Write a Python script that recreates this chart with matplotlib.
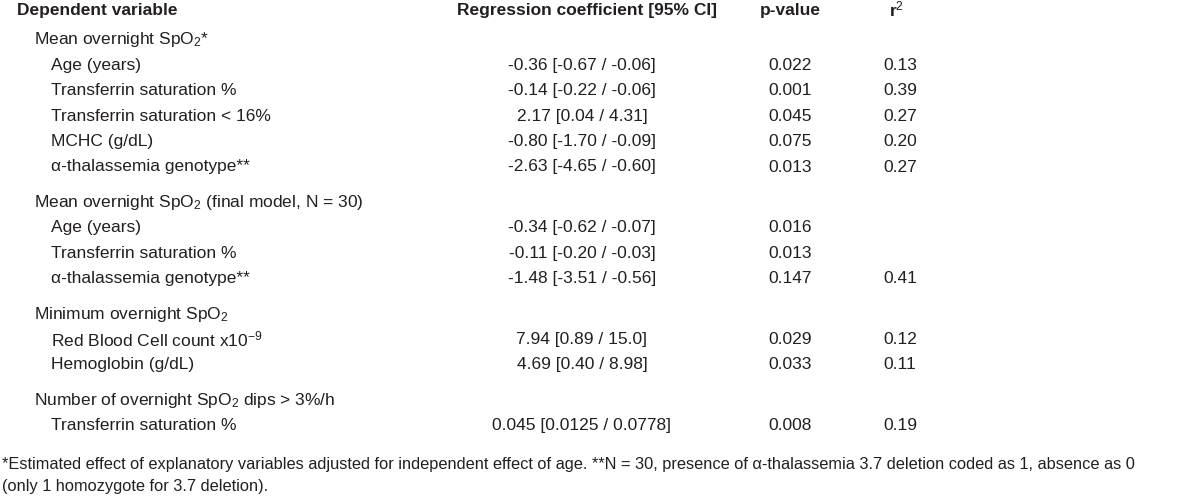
import matplotlib
matplotlib.use('Agg')
from matplotlib import pyplot as plt

FONT = 'Liberation Sans'
matplotlib.rcParams['font.family'] = [FONT, 'DejaVu Sans']
matplotlib.rcParams['mathtext.fontset'] = 'custom'
matplotlib.rcParams['mathtext.rm'] = FONT
matplotlib.rcParams['mathtext.it'] = FONT
matplotlib.rcParams['mathtext.bf'] = FONT + ':bold'

W, H = 1200, 504
INK = '#231f20'

headers = ['Dependent variable', 'Regression coefficient [95% CI]', 'p-value', 'r$^2$']

groups = [
	'Mean overnight SpO$_2$*',
	'Mean overnight SpO$_2$ (final model, N = 30)',
	'Minimum overnight SpO$_2$',
	'Number of overnight SpO$_2$ dips > 3%/h',
]
variables = [
	['Age (years)', 'Transferrin saturation %', 'Transferrin saturation < 16%',
	 'MCHC (g/dL)', 'α-thalassemia genotype**'],
	['Age (years)', 'Transferrin saturation %', 'α-thalassemia genotype**'],
	['Red Blood Cell count x10$^{-9}$', 'Hemoglobin (g/dL)'],
	['Transferrin saturation %'],
]
coefs = [
	['-0.36 [-0.67 / -0.06]', '-0.14 [-0.22 / -0.06]', '2.17 [0.04 / 4.31]',
	 '-0.80 [-1.70 / -0.09]', '-2.63 [-4.65 / -0.60]'],
	['-0.34 [-0.62 / -0.07]', '-0.11 [-0.20 / -0.03]', '-1.48 [-3.51 / -0.56]'],
	['7.94 [0.89 / 15.0]', '4.69 [0.40 / 8.98]'],
	['0.045 [0.0125 / 0.0778]'],
]
pvalues = [
	['0.022', '0.001', '0.045', '0.075', '0.013'],
	['0.016', '0.013', '0.147'],
	['0.029', '0.033'],
	['0.008'],
]
r2 = [
	['0.13', '0.39', '0.27', '0.20', '0.27'],
	['', '', '0.41'],
	['0.12', '0.11'],
	['0.19'],
]
footnotes = [
	'*Estimated effect of explanatory variables adjusted for independent effect of age. '
	'**N = 30, presence of α-thalassemia 3.7 deletion coded as 1, absence as 0',
	'(only 1 homozygote for 3.7 deletion).',
]

# layout in pixels (from top-left)
x_head, x_group, x_var = 17, 34, 51
x_coef, x_p, x_r2 = 582, 790, 900
y_head = 10
row_h = 25.4
group_gap = 10
fs = 12.5
fs_note = 11.8


def put(x, y, s, **kw):
	kw.setdefault('fontsize', fs)
	kw.setdefault('color', INK)
	kw.setdefault('va', 'center')
	fig.text(x / W, 1 - y / H, s, **kw)


fig = plt.figure(figsize=(W / 100, H / 100), dpi=100)
fig.patch.set_facecolor('white')

put(x_head, y_head, headers[0], fontweight='bold', ha='left')
put(587, y_head, headers[1], fontweight='bold', ha='center')
put(x_p, y_head, headers[2], fontweight='bold', ha='center')
put(x_r2 - 3, y_head - 1, headers[3], fontweight='bold', ha='center')

y = 40
for gi, g in enumerate(groups):
	put(x_group, y, g, ha='left')
	y += row_h
	for vi, v in enumerate(variables[gi]):
		put(x_var, y, v, ha='left')
		put(x_coef, y, coefs[gi][vi], ha='center')
		put(x_p, y, pvalues[gi][vi], ha='center')
		if r2[gi][vi]:
			put(x_r2, y, r2[gi][vi], ha='center')
		y += row_h
	y += group_gap

put(2, 465, footnotes[0], ha='left', fontsize=fs_note)
put(2, 487, footnotes[1], ha='left', fontsize=fs_note)

fig.savefig('out.png', dpi=100, facecolor='white')
